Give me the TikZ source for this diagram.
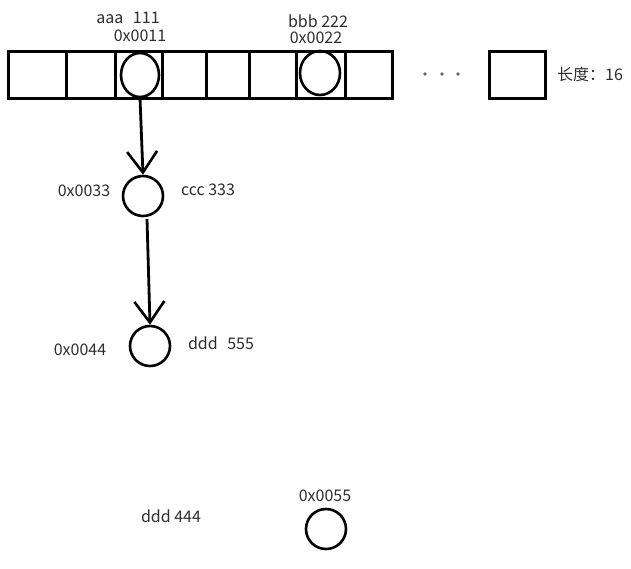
\documentclass[tikz,border=0pt]{standalone}
\usepackage{fontspec}
\setmainfont{Noto Sans CJK SC}
\usetikzlibrary{arrows.meta,shapes.geometric}
\begin{document}
\begin{tikzpicture}[x=1pt,y=-1pt,
  lbl/.style={font=\fontsize{16}{18}\selectfont, text=black!82, inner sep=0pt},
  cell/.style={draw, line width=3pt},
  blob/.style={draw, line width=2.6pt, circle, minimum size=40pt, inner sep=0pt},
  oval/.style={draw, line width=2.6pt, ellipse, inner sep=0pt},
  link/.style={line width=2.8pt, -{Straight Barb[length=21pt,width=30pt,line width=2.6pt]}}]
\useasboundingbox[fill=white] (0,0) rectangle (631,569);
% array
\draw[cell] (8,52) rectangle (392,99);
\foreach \x in {66,115,162,206,249,296,345} \draw[cell] (\x,52) -- (\x,99);
\draw[cell] (489,52) rectangle (545,99);
\foreach \x in {425,442,458} \fill[black!60] (\x,74) circle (1.8pt);
\node[lbl, anchor=west] (len) at (557,74) {长度：16};
% circles in array
\node[oval, minimum width=38pt, minimum height=44pt] (c1) at (140,75) {};
\node[oval, minimum width=40pt, minimum height=44pt] (c2) at (320,73) {};
\node[lbl] (l1a) at (128,18) {aaa\hspace{0.6em}111};
\node[lbl] (l1b) at (140,36) {0x0011};
\node[lbl] (l2a) at (318,21) {bbb 222};
\node[lbl] (l2b) at (316,38) {0x0022};
% chain
\node[blob] (c3) at (143,196) {};
\node[blob] (c4) at (150,346) {};
\node[blob] (c5) at (326,529) {};
\node[lbl] (a3) at (84,191) {0x0033};
\node[lbl] (v3) at (208,190) {ccc 333};
\node[lbl] (a4) at (80,350) {0x0044};
\node[lbl] (v4) at (221,343) {ddd\hspace{0.6em}555};
\node[lbl] (v5) at (171,516) {ddd 444};
\node[lbl] (a5) at (325,496) {0x0055};
\coordinate (s1) at (140,98);
\coordinate (s2) at (147,219);
\draw[link] (s1) -- (c3.north);
\draw[link] (s2) -- (c4.north);
\end{tikzpicture}
\end{document}
